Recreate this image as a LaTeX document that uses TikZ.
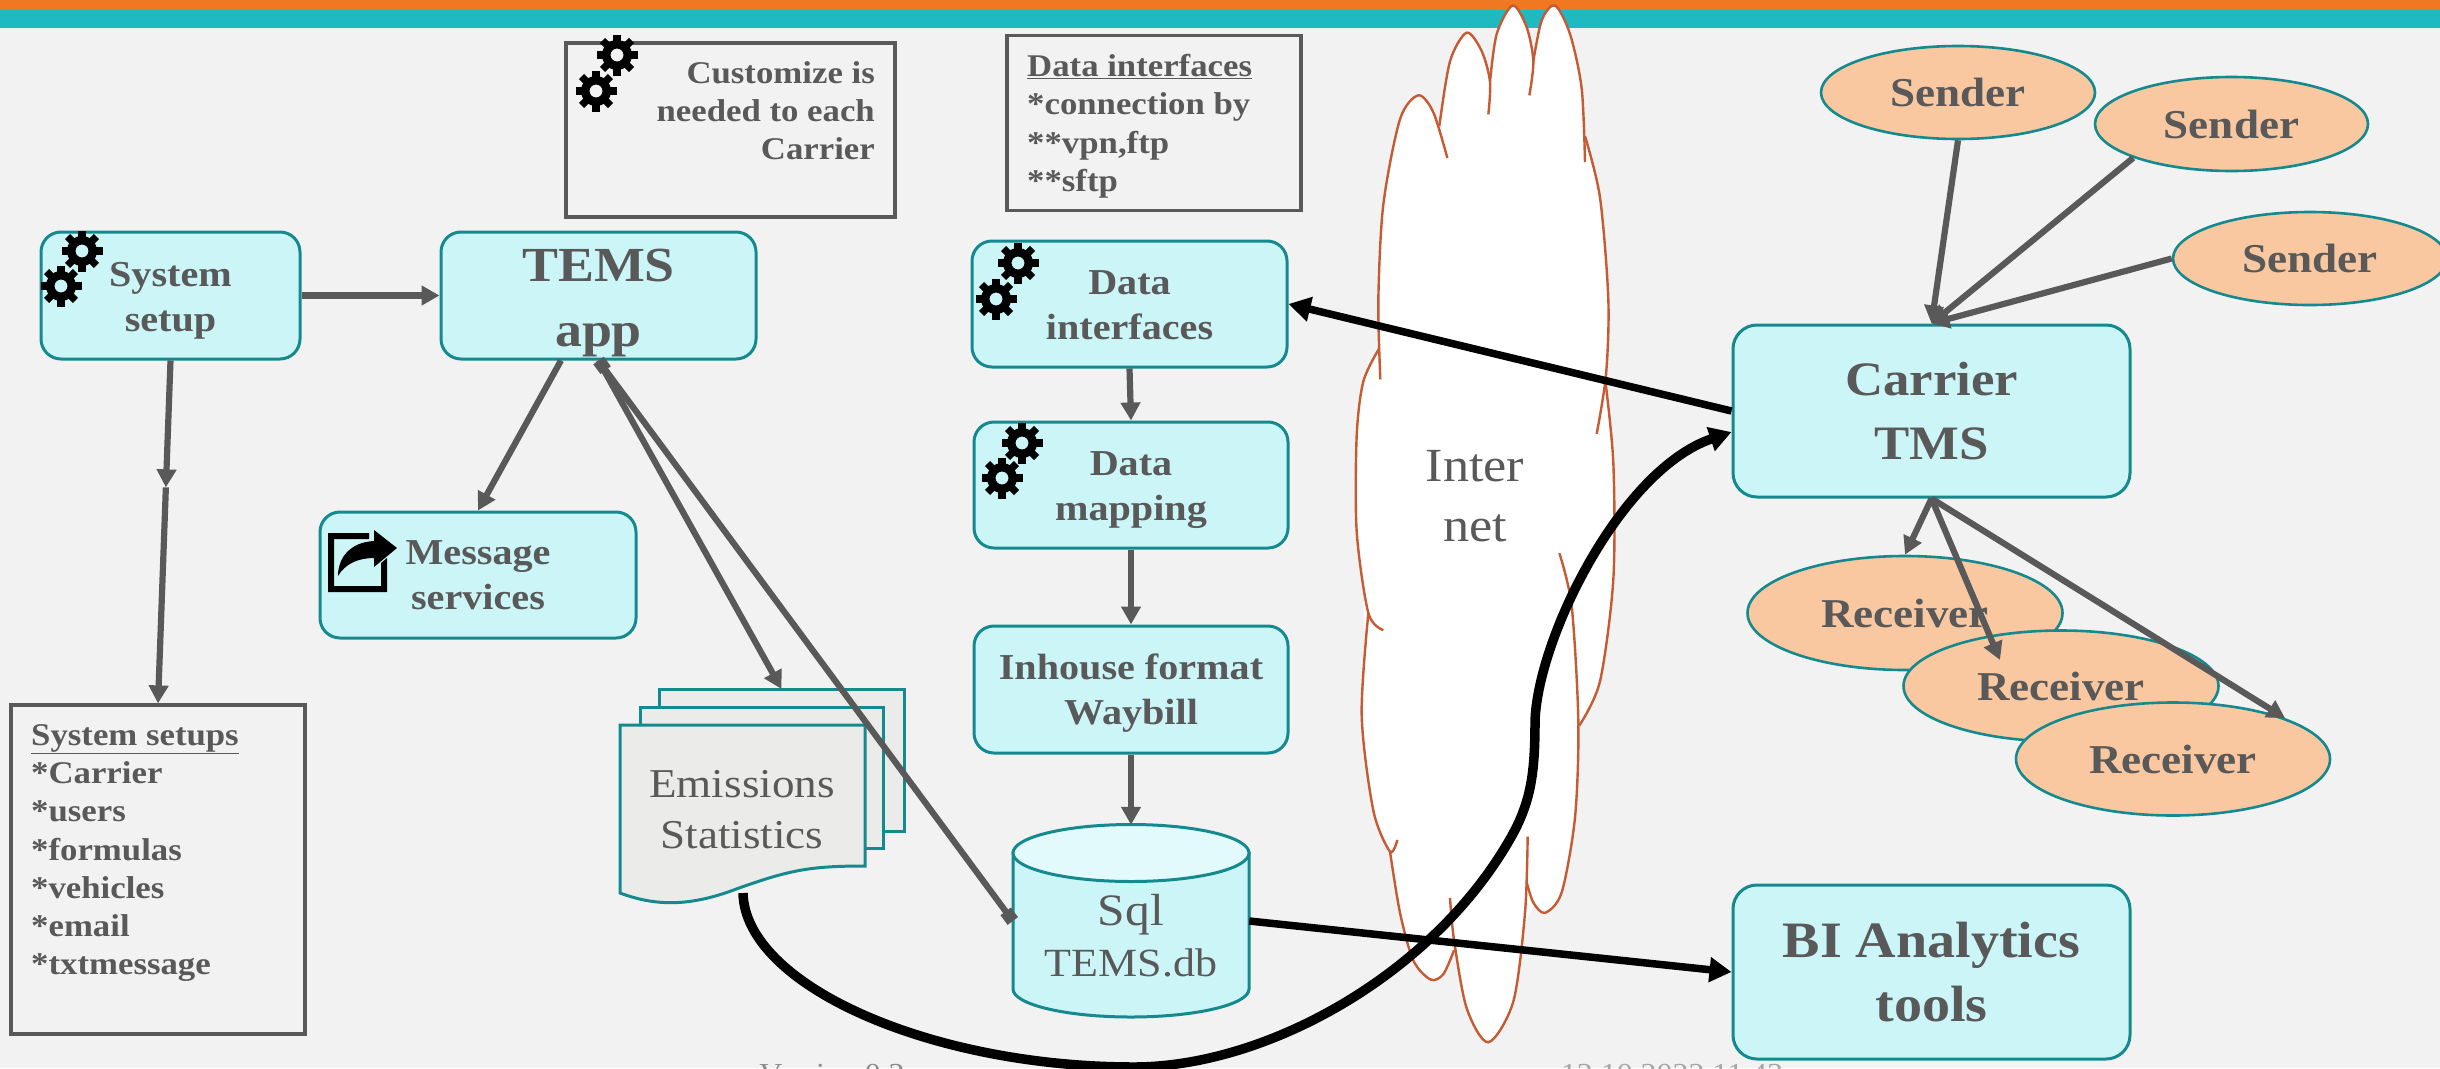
\documentclass[tikz,border=0pt]{standalone}
\usepackage{fontspec}
\setmainfont{Liberation Serif}[FakeStretch=1.1]
\usetikzlibrary{arrows.meta,shapes.geometric,calc}
\definecolor{pagebg}{HTML}{F2F2F2}
\definecolor{barorange}{HTML}{F07820}
\definecolor{barteal}{HTML}{1FB9C1}
\definecolor{boxfill}{HTML}{CCF5F8}
\definecolor{boxline}{HTML}{148A8F}
\definecolor{txtgrey}{HTML}{595959}
\definecolor{ovalfill}{HTML}{F9C8A0}
\definecolor{cloudline}{HTML}{C55A33}
\definecolor{docfill}{HTML}{EBEBEA}
\definecolor{cyltop}{HTML}{E2FAFC}
\newcommand{\lowerby}[1]{\rule{0pt}{#1pt}}
\tikzset{
  roundbox/.style={rectangle,rounded corners=20pt,draw=boxline,line width=3pt,fill=boxfill,text=txtgrey,align=center,inner sep=0pt,font=\fontsize{36.5}{45}\selectfont\bfseries},
  oval/.style={ellipse,draw=boxline,line width=2.6pt,fill=ovalfill,text=txtgrey,inner sep=0pt,font=\fontsize{41}{46}\selectfont\bfseries},
  notebox/.style={rectangle,draw=txtgrey,line width=3.2pt,inner sep=0pt},
  notetext/.style={text=txtgrey,inner sep=0pt,font=\fontsize{31.6}{38.3}\selectfont\bfseries},
  plain/.style={text=txtgrey,inner sep=0pt,align=center},
  greyarrow/.style={draw=txtgrey,line width=6.2pt,-{Triangle[length=18pt,width=19pt]}},
  blackarrow/.style={draw=black,line width=7.5pt,-{Triangle[length=22pt,width=24pt]}},
  cloudedge/.style={draw=cloudline,line width=2.4pt},
  docsheet/.style={draw=boxline,line width=3pt,fill=docfill},
  footer/.style={inner sep=0pt,anchor=base,font=\fontsize{29}{34}\selectfont},
  gearicon/.pic={
    \fill[even odd rule,black] (0,0) circle[radius=15pt] (0,0) circle[radius=6.5pt];
    \foreach \a in {0,45,...,315}{\fill[black,rotate=\a] (13pt,-3.6pt) rectangle (20.5pt,3.6pt);}
  }
}
\begin{document}
\begin{tikzpicture}[x=1pt,y=-1pt]
\useasboundingbox (0,0) rectangle (2440,1068);
\fill[pagebg] (0,0) rectangle (2440,1068);
\fill[barteal] (0,10) rectangle (2440,28);
\fill[barorange] (0,0) rectangle (2440,10);

% cloud
\begin{scope}[shift={(1300,0)},x=0.33333pt,y=-0.68120pt]
\foreach \pts in {
 {(241,557)(235,440)(250,300)(300,175)(355,140)(400,165)(442,232)},
 {(418,185)(450,90)(500,48)(545,75)(570,120)(565,168)},
 {(570,120)(590,50)(638,8)(680,40)(700,90)(688,140)},
 {(700,90)(725,30)(765,8)(810,50)(845,130)(855,238)},
 {(855,200)(900,290)(925,440)(918,550)(890,637)},
 {(915,555)(940,680)(940,850)(900,1000)(838,1065)},
 {(778,812)(815,890)(835,1060)(825,1200)(785,1310)(735,1340)(700,1325)(680,1295)},
 {(683,1228)(675,1340)(640,1470)(565,1530)(500,1480)(462,1380)(450,1318)},
 {(462,1395)(430,1430)(392,1438)(340,1410)(300,1340)(270,1250)},
 {(292,1233)(270,1250)(220,1190)(185,1050)(205,900)},
 {(250,925)(205,900)(170,780)(170,640)(190,560)(237,512)}}{
  \fill[white] plot[smooth] coordinates \pts;
}
\fill[white] (300,400)--(420,190)--(570,100)--(700,85)--(855,190)--(900,400)--(930,700)--(838,1065)--(780,1250)--(680,1350)--(460,1390)--(380,1400)--(270,1245)--(190,900)--(235,520)--cycle;
\foreach \pts in {
 {(241,557)(235,440)(250,300)(300,175)(355,140)(400,165)(442,232)},
 {(418,185)(450,90)(500,48)(545,75)(570,120)(565,168)},
 {(570,120)(590,50)(638,8)(680,40)(700,90)(688,140)},
 {(700,90)(725,30)(765,8)(810,50)(845,130)(855,238)},
 {(855,200)(900,290)(925,440)(918,550)(890,637)},
 {(915,555)(940,680)(940,850)(900,1000)(838,1065)},
 {(778,812)(815,890)(835,1060)(825,1200)(785,1310)(735,1340)(700,1325)(680,1295)},
 {(683,1228)(675,1340)(640,1470)(565,1530)(500,1480)(462,1380)(450,1318)},
 {(462,1395)(430,1430)(392,1438)(340,1410)(300,1340)(270,1250)},
 {(292,1233)(270,1250)(220,1190)(185,1050)(205,900)},
 {(250,925)(205,900)(170,780)(170,640)(190,560)(237,512)}}{
  \draw[cloudedge] plot[smooth] coordinates \pts;
}
\end{scope}
\node[plain,font=\fontsize{47.5}{60}\selectfont] (internet) at (1475,496) {Inter\\net};

% footer
\node[footer,text=black!45] (version) at (832,1083) {Version 0.2};
\node[footer,text=black!35] (date) at (1672,1083) {12.10.2022 11.43};

% notes
\node[notebox,minimum width=329pt,minimum height=174pt] (custnote) at (730.5,130) {};
\node[notetext,anchor=north east,align=right] (custtext) at (875,61) {Customize is\\needed to each\\Carrier};
\node[notebox,minimum width=294pt,minimum height=175pt] (datanote) at (1154,123) {};
\node[notetext,anchor=north west,align=left] (datatext) at (1027,54) {\underline{Data interfaces}\\*connection by\\**vpn,ftp\\**sftp};
\node[notebox,minimum width=294pt,minimum height=329pt] (sysnote) at (158,869.5) {};
\node[notetext,anchor=north west,align=left] (systext) at (31,724) {\underline{System setups}\\*Carrier\\*users\\*formulas\\*vehicles\\*email\\*txtmessage};

% boxes
\node[roundbox,minimum width=259pt,minimum height=127pt] (sys) at (170.5,295.5) {\lowerby{34}System\\setup};
\node[roundbox,minimum width=315pt,minimum height=127pt,font=\fontsize{49}{65}\selectfont\bfseries] (tems) at (598.5,295.5) {\lowerby{48}TEMS\\app};
\node[roundbox,minimum width=316pt,minimum height=126pt] (msg) at (478,575) {Message\\services};
\node[roundbox,minimum width=315pt,minimum height=126pt] (dataif) at (1129.5,304) {\lowerby{26}Data\\interfaces};
\node[roundbox,minimum width=314pt,minimum height=126pt] (datamap) at (1131,485) {\lowerby{34}Data\\mapping};
\node[roundbox,minimum width=314pt,minimum height=127pt] (inhouse) at (1131,689.5) {\lowerby{32}Inhouse format\\Waybill};
\node[roundbox,rounded corners=24pt,minimum width=397pt,minimum height=172pt,font=\fontsize{48}{64}\selectfont\bfseries] (carrier) at (1931.5,411) {Carrier\\TMS};
\node[roundbox,rounded corners=24pt,minimum width=397pt,minimum height=174pt,font=\fontsize{51}{64}\selectfont\bfseries] (bi) at (1931.5,972) {BI Analytics\\tools};

% documents
\filldraw[docsheet] (659,689) rectangle (904,831);
\filldraw[docsheet] (640,707) rectangle (883,848);
\filldraw[docsheet] (620,725) -- (865,725) -- (865,866) .. controls (810,866) and (790,870) .. (739,888) .. controls (695,905) and (660,908) .. (620,893) -- cycle;
\node[plain,font=\fontsize{41}{51}\selectfont] (docs) at (742,810) {Emissions\\Statistics};
\coordinate (docback) at (781.5,689);
\coordinate (docfoot) at (743,893);

% cylinder
\filldraw[draw=boxline,line width=3pt,fill=boxfill] (1013,853) -- (1013,989) arc[start angle=180,end angle=360,x radius=118pt,y radius=28pt] -- (1249,853) -- cycle;
\filldraw[draw=boxline,line width=3pt,fill=cyltop] (1131,853) ellipse[x radius=118pt,y radius=28.5pt];
\node[minimum width=236pt,minimum height=192pt,inner sep=0pt] (cyl) at (1131,921) {};
\node[plain,font=\fontsize{45}{53}\selectfont] (cyltext) at (1131,936) {Sql\\[-2pt]\fontsize{40}{53}\selectfont TEMS.db};

% ovals
\node[oval,minimum width=274pt,minimum height=93pt] (s1) at (1958,92.5) {Sender};
\node[oval,minimum width=273pt,minimum height=94pt] (s2) at (2231.5,124) {Sender};
\node[oval,minimum width=274pt,minimum height=93pt] (s3) at (2310,258.5) {Sender};
\node[oval,minimum width=315pt,minimum height=114pt] (r1) at (1905,613) {Receiver};
\node[oval,minimum width=315pt,minimum height=111pt] (r2) at (2061,686) {Receiver};
\node[oval,minimum width=314pt,minimum height=113pt] (r3) at (2173,759) {Receiver};
\coordinate (r2tip) at (2000,660);

% gears
\pic at (82,251) {gearicon};
\pic at (61,286) {gearicon};
\pic at (617,55) {gearicon};
\pic at (596,91) {gearicon};
\pic at (1018,263) {gearicon};
\pic at (996,299) {gearicon};
\pic at (1022,443) {gearicon};
\pic at (1002,478) {gearicon};

% share icon
\fill[black] (328,533) -- (369,533) -- (369,539) -- (334,539) -- (334,586) -- (381,586) -- (381,563) -- (387,558) -- (387,592) -- (328,592) -- cycle;
\fill[black] (397,548) -- (374,530) -- (374,541) .. controls (352,542) and (338,556) .. (338,576) .. controls (345,564) and (358,558) .. (374,558) -- (374,567) -- cycle;

% connectors
\draw[greyarrow] (sys.east) -- (tems.west);
\coordinate (sysmid) at ($(sys.south)!0.37!(sysnote.north)$);
\draw[greyarrow] (sys.south) -- (sysmid);
\draw[greyarrow] (sysmid) -- (sysnote.north);
\draw[greyarrow] (tems.-120) -- (msg.north);
\draw[greyarrow] (tems.south) -- (docback);
\draw[draw=txtgrey,line width=6.2pt,{Square[length=12pt,width=13pt]}-{Square[length=12pt,width=13pt]}] (tems.south) -- (cyl.west);
\draw[greyarrow] (dataif.south) -- (datamap.north);
\draw[greyarrow] (datamap.south) -- (inhouse.north);
\draw[greyarrow] (inhouse.south) -- (cyl.north);
\draw[greyarrow] (s1.south) -- (carrier.north);
\draw[greyarrow] (s2.199) -- (carrier.north);
\draw[greyarrow] (s3.west) -- (carrier.north);
\draw[greyarrow] (carrier.south) -- (r1.north);
\draw[greyarrow] (carrier.south) -- (r2tip);
\draw[greyarrow] (carrier.south) -- (r3.20);
\draw[blackarrow] (carrier.west) -- (dataif.east);
\draw[blackarrow] (cyl.east) -- (bi.west);
\draw[blackarrow,line width=9.5pt] (docfoot) .. controls (745,985) and (930,1067) .. (1134,1067) .. controls (1270,1067) and (1440,970) .. (1515,830) .. controls (1530,800) and (1535,775) .. (1535,722) .. controls (1537,640) and (1620,470) .. (carrier.-174.5);
\end{tikzpicture}
\end{document}
